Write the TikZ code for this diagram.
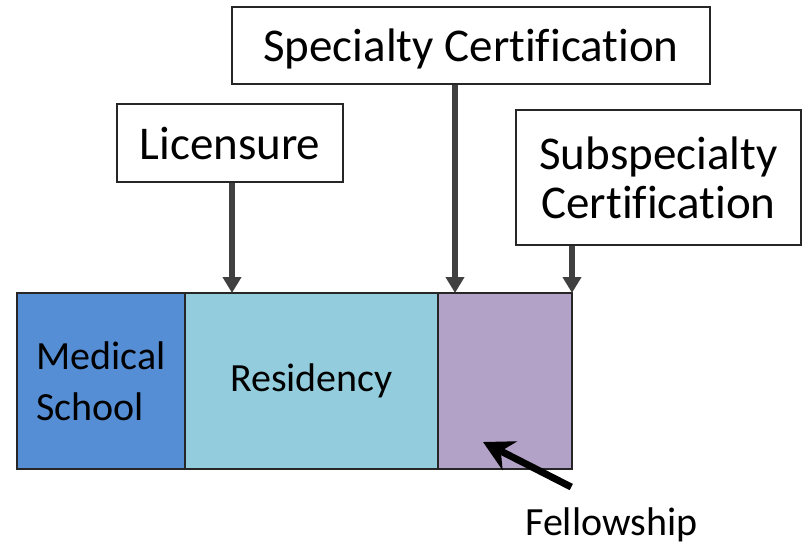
\documentclass[tikz,border=0pt]{standalone}
\usepackage{fontspec}
\setmainfont{Carlito}[Ligatures=NoCommon]
\usetikzlibrary{positioning,arrows.meta}

\definecolor{medblue}{RGB}{85,142,213}
\definecolor{resblue}{RGB}{147,205,221}
\definecolor{felpurple}{RGB}{179,162,199}
\definecolor{arrowgray}{RGB}{64,64,64}

\tikzset{
    stage/.style={draw=black!85, line width=1.5pt, minimum height=176pt, inner sep=0pt, outer sep=0pt, align=left, font=\fontsize{40}{51}\selectfont},
    milestone/.style={draw=black!85, line width=1.2pt, inner sep=0pt, align=center, text depth=0pt, font=\fontsize{47}{49}\selectfont},
    pointer/.style={draw=arrowgray, line width=5.5pt, -{Triangle[length=16pt,width=18pt]}}
}

\begin{document}
\begin{tikzpicture}[x=1pt,y=-1pt]
        \useasboundingbox (0,0) rectangle (808,547);

        % Abschnitte der Ausbildung als Balken
        \node[stage, fill=medblue, minimum width=168pt] (med) at (101,381) {Medical\\School};
        \node[stage, fill=resblue, minimum width=253pt, right=0pt of med] (res) {Residency};
        \node[stage, fill=felpurple, minimum width=134pt, right=0pt of res] (fel) {};

        % Zeitpunkte der Pruefungen
        \node[milestone, minimum width=226pt, minimum height=78pt] (lic) at (230,143) {Licensure};
        \node[milestone, minimum width=478pt, minimum height=77pt] (spec) at (471,45.5) {Specialty Certification};
        \node[milestone, minimum width=285pt, minimum height=135pt] (subspec) at (658.5,177.5) {Subspecialty\\Certification};

        \draw[pointer] ([xshift=2pt]lic.south) -- ([xshift=2pt]lic.south |- res.north);
        \draw[pointer] ([xshift=-16pt]spec.south) -- ([xshift=-16pt]spec.south |- fel.north);
        \draw[pointer] (subspec.south -| fel.north east) -- (fel.north east);

        % Hinweis auf die Fellowship
        \node[anchor=base west, inner sep=0pt, font=\fontsize{40}{48}\selectfont] (fellabel) at (525,535) {Fellowship};
        \coordinate (feltip) at (483,442);
        \draw[black, line width=7pt, -{Stealth[length=30pt,width=32pt,inset=10pt]}] ([xshift=-40pt,yshift=20pt]fellabel.north) -- (feltip);

    \end{tikzpicture}
\end{document}
